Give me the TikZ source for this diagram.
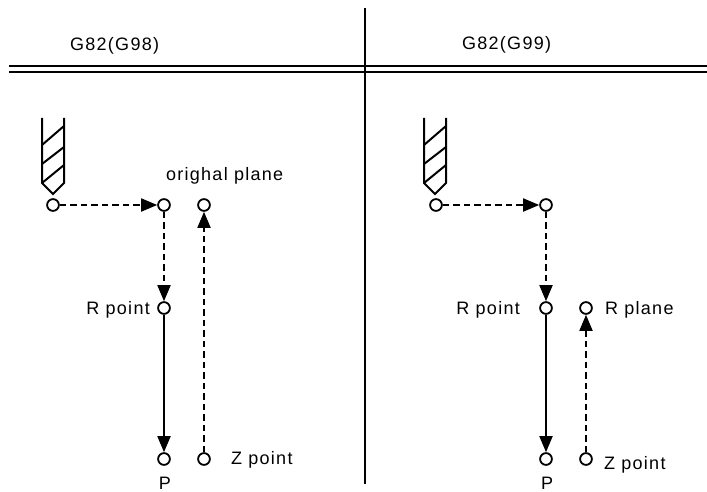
\documentclass[tikz,border=0pt]{standalone}
\usepackage{fontspec}
\setmainfont[LetterSpace=7]{Liberation Sans}
\usetikzlibrary{arrows.meta}
\tikzset{
  pt/.style={circle,draw=black,line width=1.8pt,fill=white,minimum size=11.8pt,inner sep=0pt},
  lbl/.style={font=\fontsize{18}{20}\selectfont,inner sep=0pt,text=black},
  solidarrow/.style={line width=1.8pt,-{Triangle[length=16pt,width=13pt]}},
  dasharrow/.style={line width=1.8pt,dash pattern=on 6.5pt off 4pt,-{Triangle[length=16pt,width=13pt]}},
  rule/.style={line width=2pt},
  drillline/.style={line width=2pt,line join=miter}
}
\begin{document}
\begin{tikzpicture}[x=1pt,y=-1pt]
\useasboundingbox (0,0) rectangle (707,492);
% frame rules
\coordinate (vt) at (365,8); \coordinate (vb) at (365,484);
\coordinate (hl1) at (9,66); \coordinate (hr1) at (707,66);
\coordinate (hl2) at (9,72); \coordinate (hr2) at (707,72);
\draw[rule] (vt) -- (vb);
\draw[line width=2.6pt] (hl1) -- (hr1);
\draw[line width=1.4pt] (hl2) -- (hr2);
\node[lbl,anchor=base west] (t1) at (70,51) {G82(G98)};
\node[lbl,anchor=base west] (t2) at (462,50) {G82(G99)};
% drills
\foreach \dx in {0,382}{
\begin{scope}[xshift=\dx pt]
\draw[drillline] (42,118) -- (42,183) -- (53,194) -- (64,183) -- (64,118);
\draw[drillline] (42,145) -- (64,126);
\draw[drillline] (42,164) -- (64,147);
\draw[drillline] (42,183) -- (64,165);
\end{scope}}
% left points
\node[pt] (a0) at (53,205) {};
\node[pt] (a1) at (164,205) {};
\node[pt] (a2) at (204,205) {};
\node[pt] (a3) at (164,308) {};
\node[pt] (a4) at (164,459) {};
\node[pt] (a5) at (204,459) {};
\draw[dasharrow] (a0) -- (a1);
\draw[dasharrow] (a1) -- (a3);
\draw[solidarrow] (a3) -- (a4);
\draw[dasharrow] (a5) -- (a2);
% right points
\node[pt] (b0) at (436,205) {};
\node[pt] (b1) at (546,205) {};
\node[pt] (b3) at (546,308) {};
\node[pt] (b2) at (586,308) {};
\node[pt] (b4) at (546,459) {};
\node[pt] (b5) at (586,459) {};
\draw[dasharrow] (b0) -- (b1);
\draw[dasharrow] (b1) -- (b3);
\draw[solidarrow] (b3) -- (b4);
\draw[dasharrow] (b5) -- (b2);
% labels
\node[lbl,anchor=base west] (l1) at (166,180) {orighal plane};
\node[lbl,anchor=base east] (l2) at (150,314) {R point};
\node[lbl,anchor=base west] (l3) at (231,464) {Z point};
\node[lbl,anchor=base] (l4) at (165,489) {P};
\node[lbl,anchor=base east] (l5) at (520,314) {R point};
\node[lbl,anchor=base west] (l6) at (605,314) {R plane};
\node[lbl,anchor=base west] (l7) at (604,469) {Z point};
\node[lbl,anchor=base] (l8) at (547,489) {P};
\end{tikzpicture}
\end{document}
